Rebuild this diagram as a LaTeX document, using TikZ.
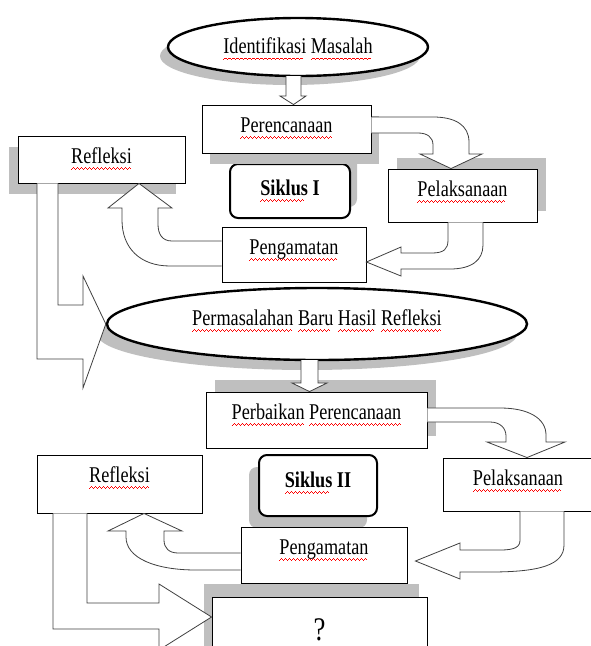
\documentclass[tikz,border=0pt]{standalone}
\usepackage{fontspec}
\setmainfont{Liberation Serif}[FakeStretch=0.81]
\usetikzlibrary{calc,shapes.geometric,shadows}
\definecolor{shadowgray}{HTML}{BFBFBF}
\definecolor{arrowline}{HTML}{404040}
\newsavebox{\typobox}
\newcommand{\typo}[1]{\sbox{\typobox}{#1}%
    \rlap{\color{red}\leaders\hbox{\rule[-6.4pt]{1pt}{.8pt}\rule[-5.7pt]{1pt}{.8pt}%
    \rule[-5pt]{1pt}{.8pt}\rule[-5.7pt]{1pt}{.8pt}}\hskip\wd\typobox}#1}
\tikzset{
    cycle diagram/.style = {x=1pt, y=-1pt, font=\fontsize{22.5}{27}\selectfont},
    cast/.style 2 args   = {drop shadow={shadow xshift=#1, shadow yshift=#2,
                            fill=shadowgray, opacity=1}},
    box/.style           = {draw, fill=white, line width=0.9pt, inner sep=0pt,
                            text height=15pt},
    cyclebox/.style      = {box, rounded corners=8pt, line width=2pt,
                            font=\fontsize{22.5}{27}\selectfont\bfseries},
    oval/.style          = {ellipse, draw, fill=white, line width=2.4pt,
                            inner sep=0pt, text height=15pt},
    barrow/.style        = {draw=arrowline, fill=white, line width=0.8pt,
                            line join=miter}
}

\begin{document}
\begin{tikzpicture}[cycle diagram]
\useasboundingbox (0,0) rectangle (590,646);

% First cycle.
\node[oval, minimum width=260pt, minimum height=58pt, text depth=2pt, cast={-8pt}{-9pt}]
    (ident) at (298,47) {\typo{Identifikasi} \typo{Masalah}};
\node[cyclebox, minimum width=120pt, minimum height=54pt, text depth=7pt, cast={7pt}{11pt}]
    (siklus1) at (290,191) {\typo{Siklus} I};
\node[box, minimum width=169pt, minimum height=48pt, text depth=9pt, cast={8pt}{-11pt}]
    (perenc) at (286.5,129) {\typo{Perencanaan}};
\node[box, minimum width=167pt, minimum height=47pt, text depth=8pt, cast={-9pt}{-11pt}]
    (refl1) at (101.5,159.5) {\typo{Refleksi}};
\node[box, minimum width=149pt, minimum height=53pt, text depth=14pt, cast={9pt}{11pt}]
    (pelak1) at (462.5,195.5) {\typo{Pelaksanaan}};
\node[box, minimum width=144pt, minimum height=55pt, text depth=16pt]
    (pengam1) at (294,254.5) {\typo{Pengamatan}};

% Second cycle.
\node[oval, minimum width=420pt, minimum height=72pt, text depth=13pt, cast={-10pt}{-10pt}]
    (permas) at (317,324) {\typo{Permasalahan} \typo{Baru} \typo{Hasil} \typo{Refleksi}};
\node[box, minimum width=221pt, minimum height=56pt, text depth=17pt, cast={9pt}{12pt}]
    (perbaik) at (316.5,420) {\typo{Perbaikan} \typo{Perencanaan}};
\node[box, minimum width=165pt, minimum height=58pt, text depth=19pt]
    (refl2) at (119.5,484) {\typo{Refleksi}};
\node[cyclebox, minimum width=118pt, minimum height=61pt, text depth=12pt, cast={-10pt}{-12pt}]
    (siklus2) at (318,485.5) {\typo{Siklus} II};
\node[box, minimum width=150pt, minimum height=53pt, text depth=14pt]
    (pelak2) at (518,484.5) {\typo{Pelaksanaan}};
\node[box, minimum width=215pt, minimum height=70pt, text height=23pt, text depth=7pt,
      font=\fontsize{33}{36}\selectfont, cast={-8pt}{13pt}]
    (result) at (319.5,632) {?};
\node[box, minimum width=166pt, minimum height=56pt, text depth=17pt]
    (pengam2) at (324,555) {\typo{Pengamatan}};

% Block arrows of the first cycle.
\draw[barrow] (286,76) -- (286,96) -- (280,96) -- (293.5,0 |- perenc.north)
    -- (306,96) -- (301,96) -- (301,76);
\draw[barrow] (perenc.east |- 0,117) -- (433,117) .. controls (455,117) and (469,125) .. (469,142)
    -- (469,154) -- (482,154) -- (451,0 |- pelak1.north) -- (420,154) -- (433,154)
    -- (433,145) .. controls (433,137) and (427,133) .. (418,133) -- (perenc.east |- 0,133);
\draw[barrow] (448,0 |- pelak1.south) -- (448,240) .. controls (448,249) and (444,253) .. (432,253)
    -- (401,253) -- (401,247) -- (pengam1.east |- 0,262) -- (401,276) -- (401,269)
    -- (450,269) .. controls (472,269) and (483,260) .. (483,245) -- (483,0 |- pelak1.south);
\draw[barrow] (pengam1.west |- 0,241) -- (172,241) .. controls (162,241) and (158,234) .. (158,224)
    -- (158,208) -- (172,208) -- (139,0 |- refl1.south) -- (108,208) -- (122,208)
    -- (122,220) .. controls (122,248) and (140,266) .. (170,266) -- (pengam1.west |- 0,266);
\draw[barrow] (37,0 |- refl1.south) -- (37,359) -- (83,359) -- (83,388) -- (permas.west)
    -- (83,276) -- (83,305) -- (58,305) -- (58,0 |- refl1.south);

% Block arrows of the second cycle.
\draw[barrow] (301,360) -- (301,383) -- (292,383) -- (309.5,0 |- perbaik.north)
    -- (327,383) -- (318,383) -- (318,360);
\draw[barrow] (perbaik.east |- 0,408) -- (500,408) .. controls (528,408) and (546,418) .. (546,435)
    -- (546,442) -- (565,442) -- (527,0 |- pelak2.north) -- (487,442) -- (506,442)
    -- (506,436) .. controls (506,428) and (500,422) .. (490,422) -- (perbaik.east |- 0,422);
\draw[barrow] (520,0 |- pelak2.south) -- (520,540) .. controls (520,547) and (515,550) .. (500,550)
    -- (460,550) -- (460,543) -- ($(pengam2.east)+(8,6)$) -- (460,579) -- (460,572)
    -- (490,572) .. controls (540,572) and (564,565) .. (564,545) -- (564,0 |- pelak2.south);
\draw[barrow] (pengam2.west |- 0,553) -- (178,553) .. controls (169,553) and (164,548) .. (164,540)
    -- (164,531) -- (182,531) -- (144,0 |- refl2.south) -- (108,531) -- (126,531)
    -- (126,537) .. controls (126,558) and (155,570) .. (196,570) -- (pengam2.west |- 0,570);
\draw[barrow] (53,0 |- refl2.south) -- (53,629) -- (159,629) -- (159,650) -- (result.west |- 0,617)
    -- (159,584) -- (159,603) -- (87,603) -- (87,0 |- refl2.south);

\end{tikzpicture}
\end{document}
